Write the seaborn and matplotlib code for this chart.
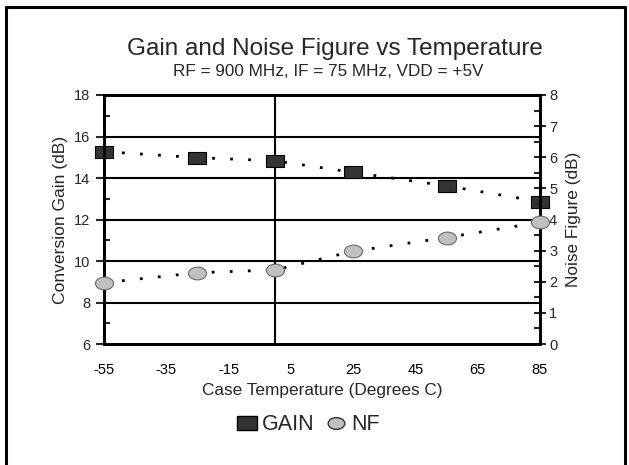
import numpy as np
import pandas as pd
import matplotlib
matplotlib.use("Agg")
import matplotlib.pyplot as plt
from matplotlib.path import Path
from matplotlib.lines import Line2D
import seaborn as sns

# datos
temps = [-55, -25, 0, 25, 55, 85]
gain_db = [15.27, 14.98, 14.83, 14.27, 13.62, 12.86]
nf_db = [1.97, 2.29, 2.38, 2.98, 3.42, 3.91]
x_ticks = [-55, -35, -15, 5, 25, 45, 65, 85]

df = pd.DataFrame({"temp": temps, "gain": gain_db, "nf": nf_db})

sns.set_style("white")
plt.rcParams["font.family"] = ["Liberation Sans", "DejaVu Sans"]
plt.rcParams["axes.unicode_minus"] = False

# marcadores anchos (rectangulo y elipse)
rect = Path([(-1.43, -1), (1.43, -1), (1.43, 1), (-1.43, 1), (-1.43, -1)],
            [Path.MOVETO, Path.LINETO, Path.LINETO, Path.LINETO, Path.CLOSEPOLY])
circ = Path.unit_circle()
ellipse = Path(circ.vertices * np.array([1.42, 1.0]), circ.codes)

fig = plt.figure(figsize=(6.29, 4.65), dpi=100)
ax = fig.add_axes([0.1653, 0.2602, 0.6932, 0.5355])
ax2 = ax.twinx()

dots = (0, (1, 5.5))
sns.lineplot(data=df, x="temp", y="gain", ax=ax, color="black", lw=2.0,
             linestyle=dots, zorder=3)
sns.scatterplot(data=df, x="temp", y="gain", ax=ax, marker=rect, s=150,
                color="#333333", edgecolor="black", linewidth=0.8, zorder=4,
                clip_on=False)
sns.lineplot(data=df, x="temp", y="nf", ax=ax2, color="black", lw=2.0,
             linestyle=dots, zorder=3)
sns.scatterplot(data=df, x="temp", y="nf", ax=ax2, marker=ellipse, s=170,
                color="#c0c0c0", edgecolor="#6a6a6a", linewidth=0.8, zorder=4,
                clip_on=False)

ax.set_xlim(-55, 85)
ax.set_ylim(6, 18)
ax2.set_ylim(0, 8)

# rejilla horizontal y linea vertical en 0
for yv in [8, 10, 12, 14, 16]:
    ax.axhline(yv, color="black", lw=1.5, zorder=1)
ax.axvline(0, color="black", lw=1.5, zorder=1)

ax.set_xticks(x_ticks)
ax.set_xticks(np.arange(-55, 86, 10), minor=True)
ax.set_yticks(np.arange(6, 19, 2))
ax.set_yticks(np.arange(7, 18, 2), minor=True)
ax2.set_yticks(np.arange(0, 9, 1))
ax2.set_yticks(np.arange(0.5, 8, 1), minor=True)

ax.tick_params(axis="x", which="both", direction="inout", length=8, width=1.5,
               labelsize=10.5, pad=10, colors="black")
ax.tick_params(axis="y", which="major", direction="out", length=6, width=1.5,
               labelsize=10.5, pad=4)
ax.tick_params(axis="y", which="minor", direction="in", length=4, width=1.5, left=True)
ax2.tick_params(axis="y", which="major", direction="inout", length=9, width=1.5,
                labelsize=10.5, pad=2)
ax2.tick_params(axis="y", which="minor", direction="in", length=4, width=1.5, right=True)

for a in (ax, ax2):
    for s in a.spines.values():
        s.set_color("black")
        s.set_linewidth(2)

ax.set_xlabel("Case Temperature (Degrees C)", fontsize=12.4, labelpad=4)
ax.set_ylabel("Conversion Gain (dB)", fontsize=12.6, labelpad=4)
ax2.set_ylabel("Noise Figure (dB)", fontsize=12.4, labelpad=6)

fig.text(0.533, 0.882, "Gain and Noise Figure vs Temperature", ha="center",
         va="baseline", fontsize=17.5)
fig.text(0.522, 0.836, "RF = 900 MHz, IF = 75 MHz, VDD = +5V", ha="center",
         va="baseline", fontsize=12.3)

handles = [
    Line2D([], [], ls="none", marker=rect, markersize=14.5, markerfacecolor="#333333",
           markeredgecolor="black", label="GAIN"),
    Line2D([], [], ls="none", marker=ellipse, markersize=12, markerfacecolor="#c0c0c0",
           markeredgecolor="#333333", label="NF"),
]
fig.legend(handles=handles, loc="center", bbox_to_anchor=(0.49, 0.087), ncol=2,
           frameon=False, fontsize=15.5, handletextpad=0.2, columnspacing=0.5,
           handlelength=1.0)

# marco exterior
fig.add_artist(Line2D([0.009, 0.009], [0, 0.986], color="black", lw=2.2))
fig.add_artist(Line2D([0.009, 0.994], [0.986, 0.986], color="black", lw=2.2))
fig.add_artist(Line2D([0.994, 0.994], [0, 0.986], color="black", lw=2.2))

fig.savefig("out.png", dpi=100)
